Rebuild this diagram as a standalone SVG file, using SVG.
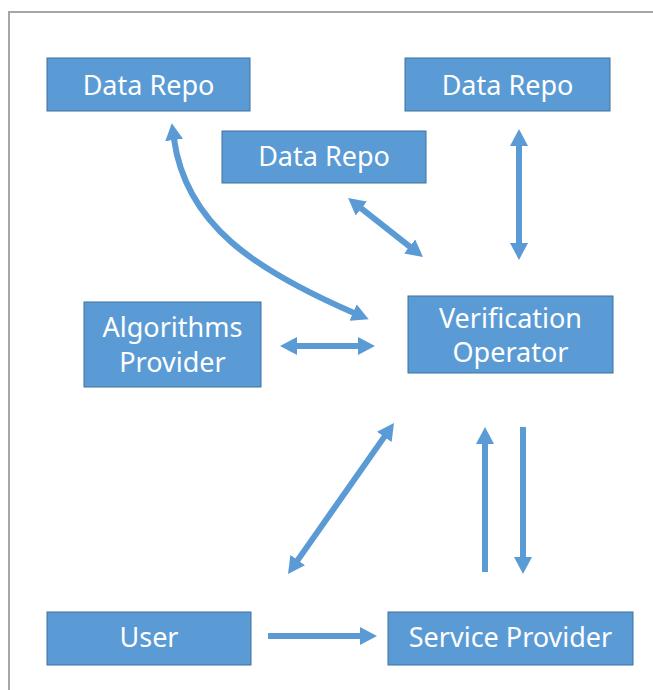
<svg xmlns="http://www.w3.org/2000/svg" width="653" height="690" viewBox="0 0 653 690">
<style>
.box{fill:#5b9bd5;stroke:#41719c;stroke-width:1}
.lbl{fill:#ffffff;font-family:"Noto Sans","Open Sans","Liberation Sans",sans-serif;font-size:27px;text-anchor:middle}
.c{fill:none;stroke:#5b9bd5;stroke-width:6}
.b{marker-start:url(#ah);marker-end:url(#ah)}
.e{marker-end:url(#ah)}
</style>
<defs>
<marker id="ah" markerUnits="userSpaceOnUse" viewBox="0 0 17 18" markerWidth="17" markerHeight="18" refX="1" refY="9" orient="auto-start-reverse">
<path d="M0,0 L17,9 L0,18 Z" fill="#5b9bd5"/>
</marker>
</defs>
<rect width="653" height="690" fill="#ffffff"/>
<path d="M9,690 V12 H653" fill="none" stroke="#a6a6a6" stroke-width="2"/>

<g id="connectors">
<path class="c b" d="M174,139 C186,225 255,270 354,313"/>
<line class="c b" x1="360.6" y1="207.9" x2="410.4" y2="247.1"/>
<line class="c b" x1="519" y1="145" x2="519" y2="244"/>
<line class="c b" x1="296" y1="346" x2="359" y2="346"/>
<line class="c b" x1="384.8" y1="436.1" x2="297.2" y2="560.9"/>
<line class="c e" x1="485" y1="572" x2="485" y2="443"/>
<line class="c e" x1="523" y1="427" x2="523" y2="558"/>
<line class="c e" x1="268" y1="636" x2="361" y2="636"/>
</g>

<g id="data-repo-1">
<rect class="box" x="47" y="58" width="203" height="53"/>
<text class="lbl" x="148.5" y="95">Data Repo</text>
</g>
<g id="data-repo-2">
<rect class="box" x="222" y="131" width="204" height="52"/>
<text class="lbl" x="324" y="166">Data Repo</text>
</g>
<g id="data-repo-3">
<rect class="box" x="405" y="58" width="205" height="53"/>
<text class="lbl" x="507.5" y="95">Data Repo</text>
</g>
<g id="algorithms-provider">
<rect class="box" x="84" y="302" width="177" height="85"/>
<text class="lbl" x="172.5" y="337">Algorithms</text>
<text class="lbl" x="172.5" y="372">Provider</text>
</g>
<g id="verification-operator">
<rect class="box" x="408" y="296" width="205" height="77"/>
<text class="lbl" x="510.5" y="328">Verification</text>
<text class="lbl" x="510.5" y="362">Operator</text>
</g>
<g id="user">
<rect class="box" x="47" y="612" width="204" height="53"/>
<text class="lbl" x="149" y="647">User</text>
</g>
<g id="service-provider">
<rect class="box" x="388" y="612" width="245" height="53"/>
<text class="lbl" x="510.5" y="647">Service Provider</text>
</g>
</svg>
